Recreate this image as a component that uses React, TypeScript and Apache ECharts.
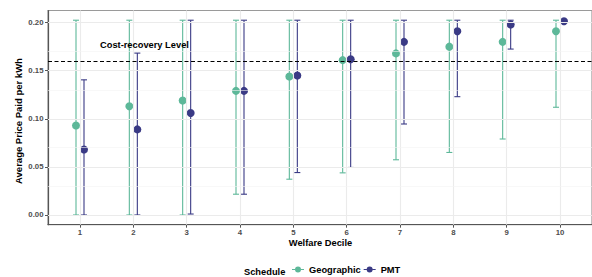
import React, { useEffect, useRef } from "react";
import * as echarts from "echarts";

const deciles = [1, 2, 3, 4, 5, 6, 7, 8, 9, 10];
const geoMean = [0.093, 0.113, 0.119, 0.129, 0.144, 0.161, 0.168, 0.175, 0.18, 0.191];
const geoLow = [0, 0, 0, 0.0216, 0.0372, 0.0438, 0.0574, 0.065, 0.079, 0.112];
const geoHigh = [0.2025, 0.2025, 0.2025, 0.2025, 0.2025, 0.2025, 0.2025, 0.2025, 0.2025, 0.2025];
const pmtMean = [0.068, 0.089, 0.106, 0.129, 0.145, 0.162, 0.18, 0.191, 0.198, 0.2015];
const pmtLow = [0, 0, 0.001, 0.0216, 0.0441, 0.0494, 0.0946, 0.123, 0.1725, null];
const pmtHigh = [0.1405, 0.1683, 0.2025, 0.2025, 0.2025, 0.2025, 0.2025, 0.2025, 0.2025, null];
const yTicks = [0, 0.05, 0.1, 0.15, 0.2];
const yMinor = [0.025, 0.075, 0.125, 0.175];
const costRecovery = 0.16;

const GREEN = "#5db899";
const NAVY = "#3a3a85";
const FONT = "'Liberation Sans', Arial, sans-serif";
const DODGE = 0.075;

const legendIcon =
  "path://M0,3h3v1h-3z M9,3h3v1h-3z M3,3.5a3,3 0 1,1 6,0a3,3 0 1,1 -6,0z";

function errData(low: (number | null)[], high: (number | null)[], off: number) {
  const out: number[][] = [];
  deciles.forEach((d, i) => {
    const lo = low[i];
    const hi = high[i];
    if (lo != null && hi != null) out.push([d + off, lo, hi]);
  });
  return out;
}

function makeErr(color: string) {
  return (params: any, api: any) => {
    const x = api.value(0);
    const lo = api.coord([x, api.value(1)]);
    const hi = api.coord([x, api.value(2)]);
    const st = { stroke: color, lineWidth: 1.1 };
    return {
      type: "group",
      children: [
        { type: "line", shape: { x1: lo[0], y1: lo[1], x2: hi[0], y2: hi[1] }, style: st },
        { type: "line", shape: { x1: lo[0] - 3, y1: lo[1], x2: lo[0] + 3, y2: lo[1] }, style: st },
        { type: "line", shape: { x1: hi[0] - 3, y1: hi[1], x2: hi[0] + 3, y2: hi[1] }, style: st },
      ],
    };
  };
}

export default function App() {
  const ref = useRef<HTMLDivElement>(null);
  useEffect(() => {
    if (!ref.current) return;
    const chart = echarts.init(ref.current, undefined, { renderer: "svg" });
    const gridLines: any[] = [
      ...deciles.map((d) => ({ xAxis: d, lineStyle: { color: "#ebebeb", width: 1.1, type: "solid" } })),
      ...yTicks.map((v) => ({ yAxis: v, lineStyle: { color: "#ebebeb", width: 1.1, type: "solid" } })),
      ...yMinor.map((v) => ({ yAxis: v, lineStyle: { color: "#f3f3f3", width: 0.6, type: "solid" } })),
    ];
    chart.setOption({
      animation: false,
      textStyle: { fontFamily: FONT },
      grid: {
        left: 48,
        right: -2,
        top: 10.5,
        bottom: 52.3,
        show: true,
        borderColor: "#9a9a9a",
        borderWidth: 1.2,
      },
      xAxis: {
        type: "value",
        min: 0.4,
        max: 10.6,
        splitLine: { show: false },
        axisLine: { show: true, onZero: false, lineStyle: { color: "#555", width: 1.2 } },
        axisTick: { show: true, length: 3, customValues: deciles, lineStyle: { color: "#555" } },
        axisLabel: {
          customValues: deciles,
          color: "#4d4d4d",
          fontWeight: "bold",
          fontSize: 7.8,
          margin: 3.5,
          fontFamily: FONT,
        },
      },
      yAxis: {
        type: "value",
        min: -0.0101,
        max: 0.2126,
        splitLine: { show: false },
        axisLine: { show: true, onZero: false, lineStyle: { color: "#555", width: 1.2 } },
        axisTick: { show: true, length: 3, customValues: yTicks, lineStyle: { color: "#555" } },
        axisLabel: {
          customValues: yTicks,
          formatter: (v: number) => v.toFixed(2),
          color: "#4d4d4d",
          fontWeight: "bold",
          fontSize: 7.8,
          margin: 4.5,
          fontFamily: FONT,
        },
      },
      legend: {
        left: 292,
        top: 263,
        padding: [2, 0, 2, 0],
        itemGap: 3,
        itemWidth: 12,
        itemHeight: 7,
        textStyle: { fontWeight: "bold", fontSize: 9.3, color: "#000", fontFamily: FONT },
        data: [
          { name: "Geographic", icon: legendIcon, itemStyle: { color: GREEN } },
          { name: "PMT", icon: legendIcon, itemStyle: { color: NAVY } },
        ],
      },
      graphic: [
        {
          type: "text",
          x: 244,
          y: 271.5,
          style: {
            text: "Schedule",
            font: `bold 9.3px ${FONT}`,
            fill: "#000",
            verticalAlign: "middle",
          },
        },
        {
          type: "text",
          x: 320.5,
          y: 243,
          style: {
            text: "Welfare Decile",
            font: `bold 9.3px ${FONT}`,
            fill: "#000",
            align: "center",
            verticalAlign: "middle",
          },
        },
        {
          type: "text",
          x: 18,
          y: 121,
          rotation: Math.PI / 2,
          style: {
            text: "Average Price Paid per kWh",
            font: `bold 9.5px ${FONT}`,
            fill: "#000",
            align: "center",
            verticalAlign: "middle",
          },
        },
        {
          type: "text",
          x: 100,
          y: 44.5,
          z: 100,
          style: {
            text: "Cost-recovery Level",
            font: `bold 9.3px ${FONT}`,
            fill: "#000",
            verticalAlign: "middle",
          },
        },
      ],
      series: [
        {
          type: "scatter",
          name: "grid",
          data: [],
          z: 0,
          silent: true,
          markLine: {
            silent: true,
            symbol: "none",
            label: { show: false },
            animation: false,
            data: gridLines,
          },
        },
        {
          type: "scatter",
          name: "ref",
          data: [],
          z: 1,
          silent: true,
          markLine: {
            silent: true,
            symbol: "none",
            label: { show: false },
            animation: false,
            data: [{ yAxis: costRecovery, lineStyle: { color: "#000", width: 1, type: [4, 2.5] } }],
          },
        },
        {
          type: "custom",
          name: "Geographic",
          z: 2,
          itemStyle: { color: GREEN },
          renderItem: makeErr(GREEN),
          data: errData(geoLow, geoHigh, -DODGE),
          encode: { x: 0, y: [1, 2] },
        },
        {
          type: "custom",
          name: "PMT",
          z: 2,
          itemStyle: { color: NAVY },
          renderItem: makeErr(NAVY),
          data: errData(pmtLow, pmtHigh, DODGE),
          encode: { x: 0, y: [1, 2] },
        },
        {
          type: "scatter",
          name: "Geographic",
          z: 3,
          symbolSize: 8,
          itemStyle: { color: GREEN, opacity: 1 },
          data: deciles.map((d, i) => [d - DODGE, geoMean[i]]),
        },
        {
          type: "scatter",
          name: "PMT",
          z: 3,
          symbolSize: 8,
          itemStyle: { color: NAVY, opacity: 1 },
          data: deciles.map((d, i) => [d + DODGE, pmtMean[i]]),
        },
      ],
    });
    return () => chart.dispose();
  }, []);
  return (
    <div
      ref={ref}
      style={{ position: "absolute", left: 0, top: 0, width: 592, height: 277 }}
    />
  );
}
